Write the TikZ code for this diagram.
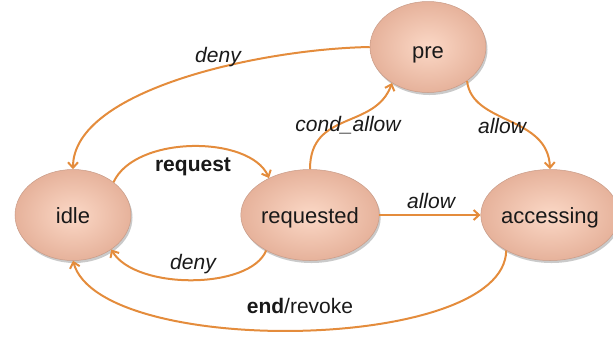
\documentclass[tikz,border=0pt]{standalone}
\usepackage{fontspec}
\setmainfont{Liberation Sans}
\usetikzlibrary{shapes.geometric,arrows.meta,shadows}
\definecolor{edgeorange}{RGB}{228,140,60}
\definecolor{nodein}{RGB}{251,216,198}
\definecolor{nodeout}{RGB}{230,178,155}
\definecolor{noderim}{RGB}{200,155,135}
\definecolor{txt}{RGB}{25,25,25}
\tikzset{
  state/.style={ellipse, minimum width=116bp, minimum height=91bp, inner sep=0pt,
    draw=noderim, line width=0.5bp, inner color=nodein, outer color=nodeout,
    drop shadow={shadow xshift=1.5bp, shadow yshift=-2.5bp, opacity=0.35, fill=black!60},
    text=txt, font=\fontsize{22bp}{26bp}\selectfont, text height=18bp, text depth=2bp},
  trans/.style={draw=edgeorange, line width=2bp, -{Straight Barb[length=5.5bp,width=10bp]}},
  lbl/.style={text=txt, inner sep=0pt, font=\fontsize{21bp}{25bp}\selectfont}
}
\begin{document}
\begin{tikzpicture}[x=1bp,y=-1bp]
\useasboundingbox (0,0) rectangle (613,337);
\node[state] (idle) at (73,215) {idle};
\node[state] (requested) at (310,215) {requested};
\node[state] (accessing) at (550,215) {accessing};
\node[state, text height=28bp, text depth=5bp] (pre) at (428,47) {pre};

\draw[trans] (pre.west) .. controls (260,49) and (73,90) .. (idle.north);
\draw[trans] (idle.39) .. controls (135,135) and (250,135) .. (requested.138);
\draw[trans] (requested.219) .. controls (250,290) and (135,290) .. (idle.318);
\draw[trans] (requested.north) .. controls (310,110) and (375,130) .. (pre.225);
\draw[trans] (pre.-41) .. controls (472,125) and (548,115) .. (accessing.north);
\draw[trans] (requested.east) -- (accessing.west);
\draw[trans] (accessing.219) .. controls (505,353) and (100,358) .. (idle.south);

\node[lbl] (l1) at (218,57) {\itshape deny};
\node[lbl] (l2) at (193,167) {\bfseries request};
\node[lbl] (l3) at (193,264) {\itshape deny};
\node[lbl] (l4) at (348,125) {\itshape cond\_allow};
\node[lbl] (l5) at (502,126) {\itshape allow};
\node[lbl] (l6) at (431,201) {\itshape allow};
\node[lbl] (l7) at (300,306) {\textbf{end}/revoke};
\end{tikzpicture}
\end{document}
